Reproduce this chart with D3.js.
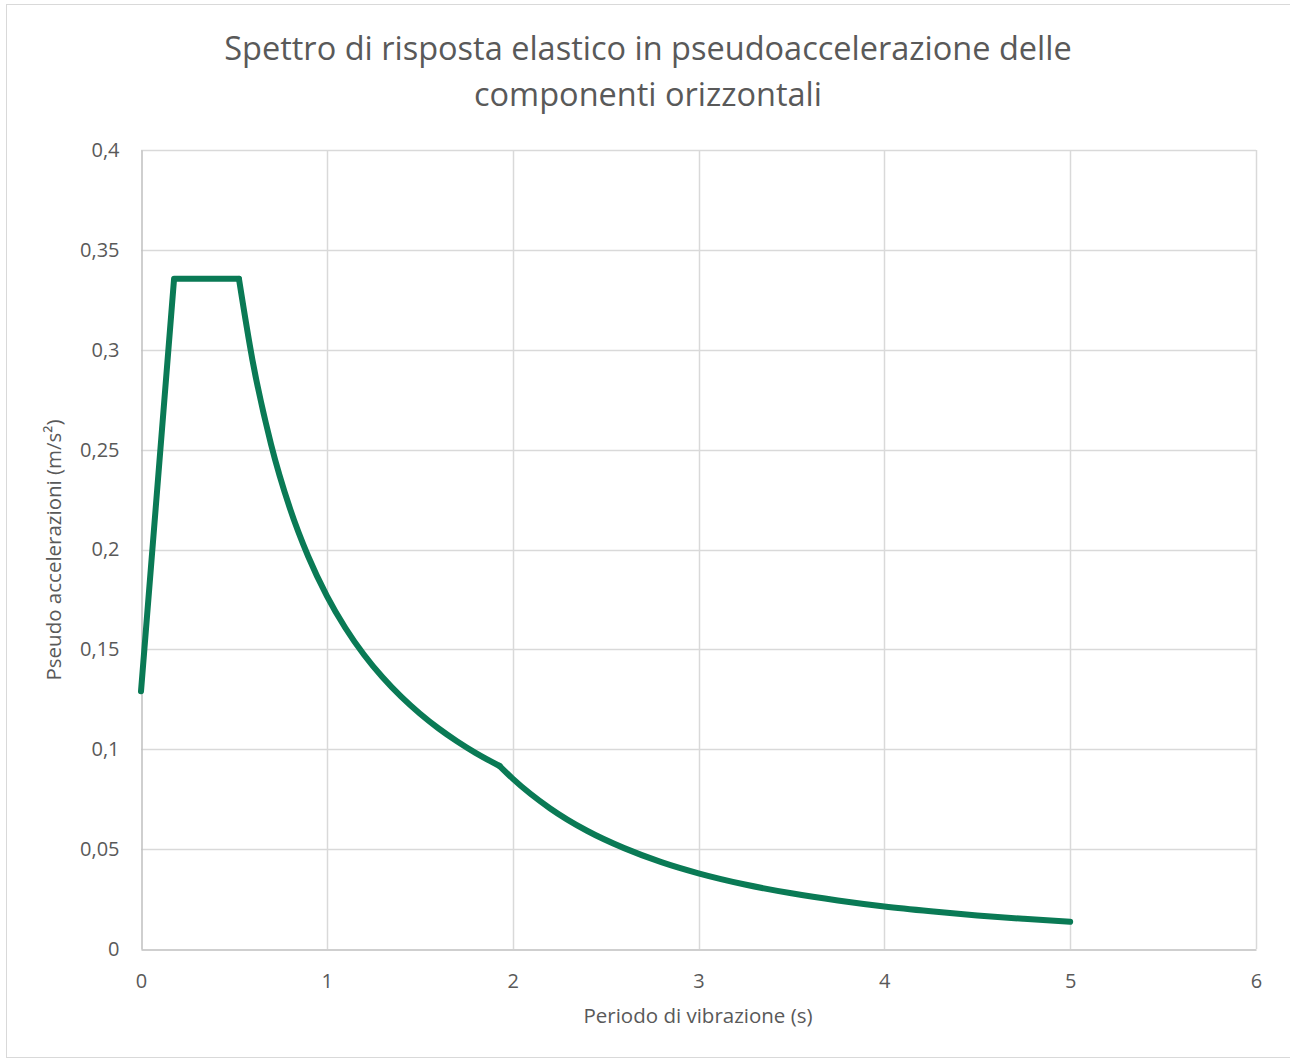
<!DOCTYPE html>
<html><head><meta charset="utf-8">
<script src="https://cdn.jsdelivr.net/npm/d3@7"></script>
<style>body{margin:0;background:#fff;} svg{display:block;}</style>
</head><body>
<svg id="c" width="1290" height="1059"></svg>
<script>
const titleLines = ["Spettro di risposta elastico in pseudoaccelerazione delle", "componenti orizzontali"];
const xLabel = "Periodo di vibrazione (s)";
const yLabel = "Pseudo accelerazioni (m/s²)";
const xTicks = [0, 1, 2, 3, 4, 5, 6];
const yTicks = [0, 0.05, 0.1, 0.15, 0.2, 0.25, 0.3, 0.35, 0.4];
const periodT = [0, 0.178, 0.527, 0.6, 0.7, 0.8, 0.9, 1.0, 1.1, 1.2, 1.3, 1.4, 1.5, 1.6, 1.7, 1.8, 1.93, 2.0, 2.2, 2.4, 2.6, 2.8, 3.0, 3.25, 3.5, 3.75, 4.0, 4.25, 4.5, 4.75, 5.0];
const accelSe = [0.129, 0.3355, 0.3355, 0.2947, 0.2526, 0.2210, 0.1965, 0.1768, 0.1607, 0.1473, 0.1360, 0.1263, 0.1179, 0.1105, 0.1040, 0.0982, 0.0916, 0.0853, 0.0705, 0.0592, 0.0505, 0.0435, 0.0379, 0.0323, 0.0279, 0.0243, 0.0213, 0.0189, 0.0168, 0.0151, 0.0136];
// branch break indices: linear rise + plateau, then 1/T branch, then 1/T² branch
const branchStarts = [0, 2, 16];

const svg = d3.select("#c");
svg.append("rect").attr("x",6.5).attr("y",4.5).attr("width",1290).attr("height",1053)
  .attr("fill","#fff").attr("stroke","#d9d9d9").attr("stroke-width",1);

const L=141, R=1256, T=150, B=949;
const x = d3.scaleLinear().domain([0,6]).range([L,R]);
const y = d3.scaleLinear().domain([0,0.4]).range([B,T]);
const fmt = v => String(v).replace(".", ",");
const font = "'Open Sans', sans-serif";

// gridlines
svg.append("g").selectAll("line").data(yTicks.slice(1)).join("line")
  .attr("x1",L).attr("x2",R).attr("y1",d=>Math.round(y(d))+0.5).attr("y2",d=>Math.round(y(d))+0.5)
  .attr("stroke","#d9d9d9").attr("stroke-width",1.5);
svg.append("g").selectAll("line").data(xTicks.slice(1)).join("line")
  .attr("y1",T).attr("y2",B).attr("x1",d=>Math.round(x(d))+0.5).attr("x2",d=>Math.round(x(d))+0.5)
  .attr("stroke","#d9d9d9").attr("stroke-width",1.5);

// axes
const xAxis = d3.axisBottom(x).tickValues(xTicks).tickFormat(fmt).tickSize(0).tickPadding(24);
const gx = svg.append("g").attr("transform",`translate(0,${Math.round(y(0))+0.5})`).call(xAxis);
gx.select(".domain").attr("stroke","#bfbfbf").attr("stroke-width",1.5);
gx.selectAll("text").attr("font-family",font).attr("font-size",20).attr("fill","#595959");

const yAxis = d3.axisLeft(y).tickValues(yTicks).tickFormat(fmt).tickSize(0).tickPadding(22);
const gy = svg.append("g").attr("transform",`translate(${Math.round(x(0))+0.5},0)`).call(yAxis);
gy.select(".domain").attr("stroke","#bfbfbf").attr("stroke-width",1.5);
gy.selectAll("text").attr("font-family",font).attr("font-size",20).attr("fill","#595959");

// line, drawn branch by branch
const pts = periodT.map((t,i)=>[t, accelSe[i]]);
const segs = branchStarts.map((s,k)=>pts.slice(s, k+1<branchStarts.length ? branchStarts[k+1]+1 : pts.length));
const curves = [d3.curveLinear, d3.curveMonotoneX, d3.curveMonotoneX];
segs.forEach((seg,k)=>{
  const line = d3.line().x(d=>x(d[0])).y(d=>y(d[1])).curve(curves[k]);
  svg.append("path").datum(seg).attr("d",line).attr("fill","none")
    .attr("stroke","#0a7a55").attr("stroke-width",6).attr("stroke-linecap","round").attr("stroke-linejoin","round");
});

// title
svg.append("g").selectAll("text").data(titleLines).join("text")
  .attr("x",648).attr("y",(d,i)=>51+i*46).attr("text-anchor","middle")
  .attr("font-family",font).attr("font-size",32.5).attr("fill","#595959")
  .attr("dominant-baseline","middle").text(d=>d);

svg.append("text").attr("x",698).attr("y",1018).attr("text-anchor","middle")
  .attr("dominant-baseline","middle").attr("font-family",font).attr("font-size",20.5).attr("fill","#595959").text(xLabel);
svg.append("text").attr("transform",`translate(56,${550}) rotate(-90)`).attr("text-anchor","middle")
  .attr("dominant-baseline","middle").attr("font-family",font).attr("font-size",20.5).attr("fill","#595959").text(yLabel);
</script>
</body></html>
